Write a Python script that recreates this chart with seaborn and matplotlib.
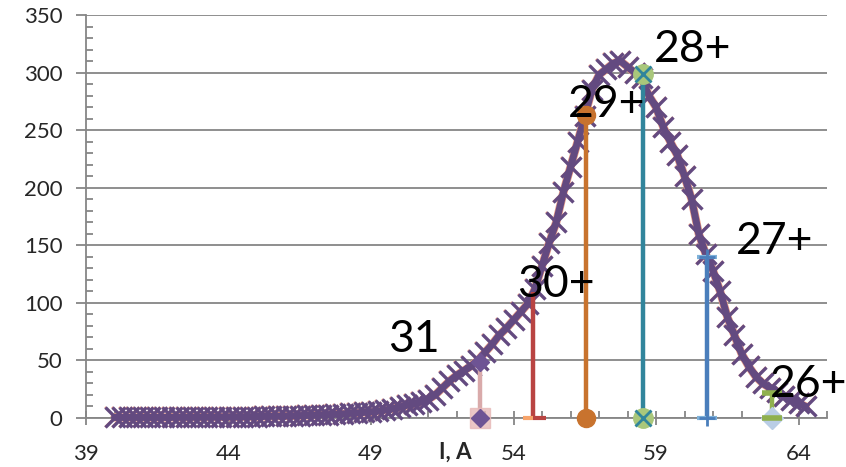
import numpy as np
import pandas as pd
import matplotlib
matplotlib.use("Agg")
import matplotlib.pyplot as plt
import seaborn as sns
from matplotlib.ticker import MultipleLocator

# measured spectrum (current I, A vs counts)
curve_x = [40.0, 40.25, 40.5, 40.75, 41.0, 41.25, 41.5, 41.75, 42.0, 42.25, 42.5, 42.75,
           43.0, 43.25, 43.5, 43.75, 44.0, 44.25, 44.5, 44.75, 45.0, 45.25, 45.5, 45.75,
           46.0, 46.25, 46.5, 46.75, 47.0, 47.25, 47.5, 47.75, 48.0, 48.25, 48.5, 48.75,
           49.0, 49.25, 49.5, 49.75, 50.0, 50.25, 50.5, 50.75, 51.0, 51.25, 51.5, 51.75,
           52.0, 52.25, 52.5, 52.75, 53.0, 53.25, 53.5, 53.75, 54.0, 54.25, 54.5, 54.75,
           55.0, 55.25, 55.5, 55.75, 56.0, 56.25, 56.5, 56.75, 57.0, 57.25, 57.5, 57.75,
           58.0, 58.25, 58.5, 58.75, 59.0, 59.25, 59.5, 59.75, 60.0, 60.25, 60.5, 60.75,
           61.0, 61.25, 61.5, 61.75, 62.0, 62.25, 62.5, 62.75, 63.0, 63.25, 63.5, 63.75,
           64.0, 64.25]
curve_y = [0.5, 0.5, 0.5, 0.5, 0.5, 0.5, 0.5, 0.5, 0.6, 0.6, 0.6, 0.7,
           0.7, 0.8, 0.8, 0.9, 1.0, 1.0, 1.1, 1.2, 1.3, 1.4, 1.5, 1.6,
           1.8, 1.9, 2.1, 2.3, 2.5, 2.8, 3.0, 3.3, 3.6, 4.0, 4.4, 4.9,
           5.4, 6.0, 7.0, 8.0, 9.5, 11, 12.5, 14, 16, 20, 26, 32,
           37, 41, 45, 50, 57, 64, 72, 78, 85, 92, 99, 112,
           132, 152, 170, 196, 218, 240, 262, 285, 298, 303, 308, 310,
           305, 300, 295, 280, 270, 253, 240, 228, 210, 190, 160, 142,
           128, 110, 88, 72, 56, 45, 36, 30, 26, 23, 19, 16,
           13, 10]

# charge-state peaks
stem_labels = ["31", "30+", "29+", "28+", "27+", "26+"]
stem_x = [52.84, 54.7, 56.54, 58.54, 60.8, 63.08]
stem_y = [49, 109, 263, 299, 140, 22]

label_pos = [(50.5, 68), (55.5, 116), (57.25, 272), (60.3, 320), (63.15, 153), (64.35, 29)]

sns.set_style("white")
plt.rcParams['font.family'] = ['Lato', 'DejaVu Sans']

fig = plt.figure(figsize=(8.46, 4.67), dpi=100)
ax = fig.add_axes([86/846, 1-418/467, 741/846, 403/467])

grey = "#868686"
purple = "#634A80"

df = pd.DataFrame({"I": curve_x, "N": curve_y})
# thin salmon trace under the main one
sns.lineplot(data=df, x="I", y="N", ax=ax, color="#E99A86", lw=6, marker="x",
             markersize=15, markeredgewidth=1.5, markeredgecolor="#E99A86",
             clip_on=False, zorder=2)
sns.lineplot(data=df, x="I", y="N", ax=ax, color=purple, lw=5, marker="x",
             markersize=14, markeredgewidth=2.4, markeredgecolor=purple,
             clip_on=False, zorder=3)

# stems
stem_colors = ["#D9AAAA", "#B94442", "#C8732E", "#31859C", "#4A7EBB", "#8FB04E"]
for sx, sy, c in zip(stem_x, stem_y, stem_colors):
    ax.vlines(sx, 0, sy, colors=c, lw=3.2, zorder=4)

# end markers of the stems
kw = dict(clip_on=False, ls="none")
# 31
ax.plot([stem_x[0]], [0], marker="s", ms=15, color="#E6B9B8", alpha=0.8, zorder=5, **kw)
ax.plot([stem_x[0]] * 2, [0, stem_y[0]], marker="D", ms=9, color="#6E5494", zorder=6, **kw)
# 30+
ax.plot([stem_x[1]], [0], marker=1, ms=9, mew=3, color="#B94442", zorder=6, **kw)
ax.plot([stem_x[1]], [0], marker=0, ms=7, mew=3, color="#F7A46B", zorder=6, **kw)
# 29+
ax.plot([stem_x[2]] * 2, [0, stem_y[2]], marker="o", ms=13, color="#C8732E", zorder=6, **kw)
# 28+
ax.plot([stem_x[3]] * 2, [0, stem_y[3]], marker="o", ms=14, color="#A9C77B", zorder=5, **kw)
ax.plot([stem_x[3]] * 2, [0, stem_y[3]], marker="x", ms=12, mew=2, color="#31859C", zorder=6, **kw)
# 27+
ax.plot([stem_x[4]] * 2, [0, stem_y[4]], marker="_", ms=14, mew=3, color="#7FB2D9", zorder=5, **kw)
ax.plot([stem_x[4]] * 2, [0, stem_y[4]], marker="+", ms=12, mew=2, color="#4A7EBB", zorder=6, **kw)
# 26+
ax.plot([stem_x[5]], [0], marker="D", ms=11, color="#B9CDE5", zorder=5, **kw)
ax.plot([stem_x[5]] * 2, [0, stem_y[5]], marker="_", ms=15, mew=4, color="#8FB04E", zorder=6, **kw)

for lab, (lx, ly) in zip(stem_labels, label_pos):
    ax.text(lx, ly, lab, fontsize=32, ha="center", va="center", color="black", zorder=7)

ax.set_xlim(39, 65)
ax.set_ylim(0, 350)
ax.xaxis.set_minor_locator(MultipleLocator(1))
ax.yaxis.set_major_locator(MultipleLocator(50))
ax.yaxis.set_minor_locator(MultipleLocator(10))
ax.set_xticks([39, 44, 49, 54, 59, 64])

ax.grid(axis="y", which="major", color=grey, lw=1.3)
ax.set_axisbelow(True)
for s in ["top", "right"]:
    ax.spines[s].set_visible(False)
for s in ["left", "bottom"]:
    ax.spines[s].set_color(grey)
    ax.spines[s].set_linewidth(1.3)

ax.tick_params(axis="y", which="major", direction="out", length=7, width=1.3, color=grey,
               labelsize=16, pad=10, left=True)
ax.tick_params(axis="y", which="minor", direction="in", length=5, width=1.3, color=grey, left=True)
ax.tick_params(axis="x", which="major", direction="inout", length=10, width=1.3, color=grey,
               labelsize=16, pad=14, bottom=True)
ax.tick_params(axis="x", which="minor", direction="in", length=5, width=1.3, color=grey, bottom=True)

ax.set_xlabel("")
ax.set_ylabel("")
ax.text((455-86)/741, -34/403, "I, A", transform=ax.transAxes, fontsize=16,
        fontweight="bold", ha="center", va="center")

fig.savefig("out.png", dpi=100)
